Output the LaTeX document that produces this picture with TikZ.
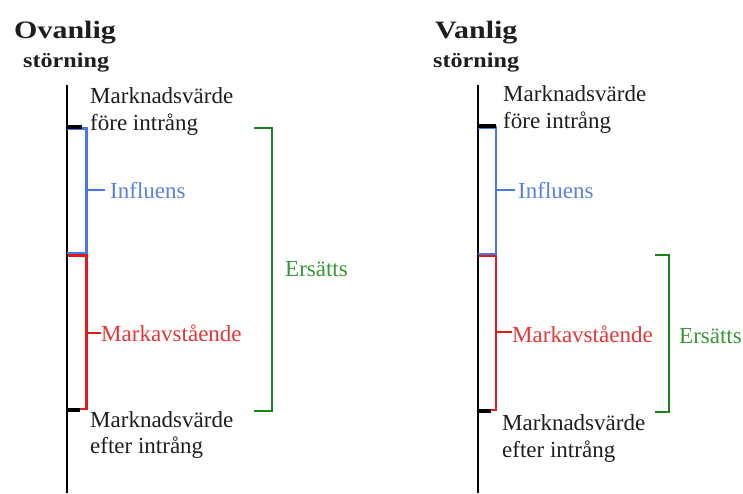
\documentclass[tikz,border=0pt]{standalone}
\usepackage{graphicx}
\usepackage{fontspec}
\setmainfont{Liberation Serif}
\definecolor{ink}{RGB}{30,30,30}
\definecolor{bluel}{RGB}{70,120,230}
\definecolor{bluet}{RGB}{90,130,220}
\definecolor{redl}{RGB}{230,25,25}
\definecolor{redt}{RGB}{225,55,55}
\definecolor{greenl}{RGB}{25,130,25}
\definecolor{greent}{RGB}{55,150,55}
\tikzset{
  lbl/.style={anchor=base west, inner sep=0pt, font=\fontsize{23}{26}\selectfont},
  head/.style={anchor=base west, inner sep=0pt, font=\fontsize{25}{28}\selectfont\bfseries},
  sub/.style={anchor=base west, inner sep=0pt, font=\fontsize{21}{24}\selectfont\bfseries},
  axis/.style={draw=black, line width=2.2pt},
  tick/.style={draw=black, line width=3.5pt},
  brk/.style={line width=2.5pt, line join=miter},
}
\begin{document}
\begin{tikzpicture}[x=1pt,y=-1pt]
\useasboundingbox (0,0) rectangle (743,493);

% ---------- left panel: Ovanlig störning ----------
\node[head, ink] (h1) at (14,38) {\scalebox{1.2}[1]{Ovanlig}};
\node[sub, ink] (s1) at (23,67) {\scalebox{1.15}[1]{störning}};
\node[lbl, ink] (mv1a) at (90,103) {Marknadsvärde};
\node[lbl, ink] (fi1) at (90,130) {före intrång};
\node[lbl, bluet] (inf1) at (110,198) {Influens};
\node[lbl, redt] (ma1) at (101,341) {Markavstående};
\node[lbl, greent] (er1) at (285,276) {Ersätts};
\node[lbl, ink] (mv1b) at (90,427) {Marknadsvärde};
\node[lbl, ink] (ef1) at (90,453) {efter intrång};

\coordinate (a1t) at (67,85);
\coordinate (a1b) at (67,493);
\draw[axis] (a1t) -- (a1b);
% influence bracket
\draw[brk, bluel] (67,128.5) -- (86.5,128.5) -- (86.5,253) -- (67,253);
\draw[brk, bluel] (86.5,190) -- (105,190);
% land value bracket
\draw[brk, redl] (68,255.5) -- (86.5,255.5) -- (86.5,409) -- (67,409);
\draw[brk, redl] (86.5,333) -- (101,333);
% compensation bracket
\draw[brk, greenl] (254,128) -- (272,128) -- (272,411) -- (254,411);
% market value marks
\draw[tick] (67,127) -- (82,127);
\draw[tick] (67,410) -- (80,410);

% ---------- right panel: Vanlig störning ----------
\node[head, ink] (h2) at (435,38) {\scalebox{1.2}[1]{Vanlig}};
\node[sub, ink] (s2) at (433,67) {\scalebox{1.15}[1]{störning}};
\node[lbl, ink] (mv2a) at (503,101) {Marknadsvärde};
\node[lbl, ink] (fi2) at (503,128) {före intrång};
\node[lbl, bluet] (inf2) at (518,198) {Influens};
\node[lbl, redt] (ma2) at (512,342) {Markavstående};
\node[lbl, greent] (er2) at (679,343) {Ersätts};
\node[lbl, ink] (mv2b) at (502,430) {Marknadsvärde};
\node[lbl, ink] (ef2) at (502,457) {efter intrång};

\coordinate (a2t) at (478,85);
\coordinate (a2b) at (478,493);
\draw[axis] (a2t) -- (a2b);
% influence bracket
\draw[brk, bluel] (478,127.5) -- (496,127.5) -- (496,254) -- (478,254);
\draw[brk, bluel] (496,190) -- (515,190);
% land value bracket
\draw[brk, redl] (479,256) -- (496,256) -- (496,410) -- (478,410);
\draw[brk, redl] (496,332) -- (512,332);
% compensation bracket
\draw[brk, greenl] (655,255) -- (669,255) -- (669,412) -- (655,412);
% market value marks
\draw[tick] (478,126) -- (496,126);
\draw[tick] (478,411) -- (491,411);
\end{tikzpicture}
\end{document}
